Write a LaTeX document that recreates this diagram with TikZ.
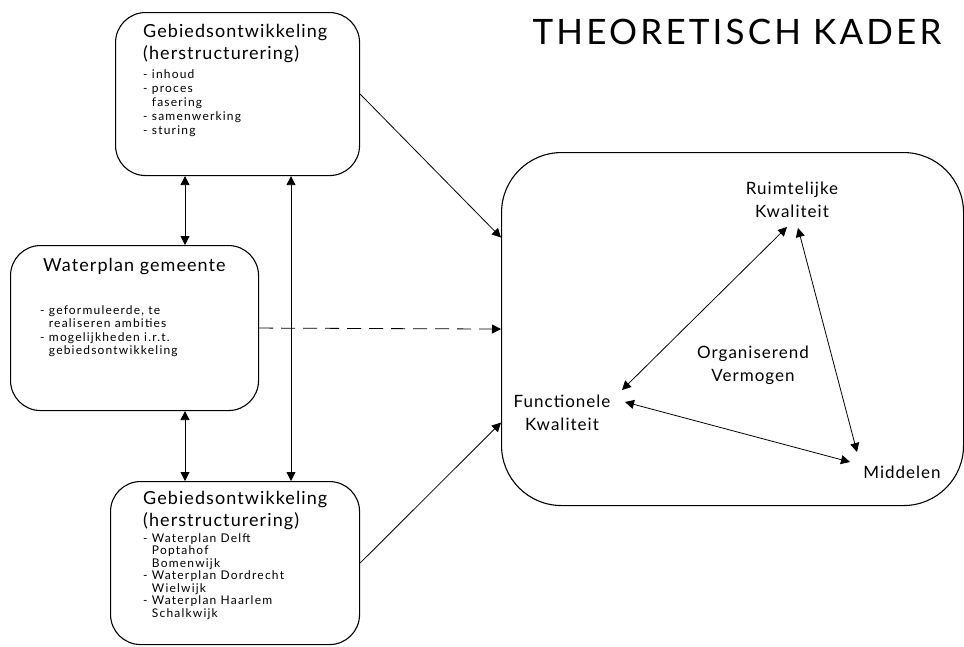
\documentclass[tikz,border=0pt]{standalone}
\usepackage{fontspec}
\setmainfont{Lato}
\newfontfamily\headfont[LetterSpace=6]{Lato}
\newfontfamily\itemfont[LetterSpace=10]{Lato}
\newfontfamily\titlefont[LetterSpace=9]{Lato}
\usetikzlibrary{arrows.meta}
\begin{document}
\begin{tikzpicture}[x=1pt,y=-1pt,
  box/.style={draw, line width=1.1pt, rounded corners=30pt, anchor=north west, inner sep=0pt},
  arr/.style={line width=0.8pt, -{Triangle[length=9pt,width=9pt]}},
  dbl/.style={line width=0.8pt, {Triangle[length=9pt,width=9pt]}-{Triangle[length=9pt,width=9pt]}},
  head/.style={font=\headfont\fontsize{18}{22}\selectfont, align=left, anchor=north west, inner sep=0pt},
  items/.style={font=\itemfont\fontsize{12}{14}\selectfont, align=left, anchor=north west, inner sep=0pt},
  lbl/.style={font=\headfont\fontsize{17}{23}\selectfont, align=center, inner sep=0pt},
]
\useasboundingbox (0,0) rectangle (964,646);

% boxes
\node[box, minimum width=244pt, minimum height=163pt] (top) at (115,12) {};
\node[box, minimum width=248pt, minimum height=165pt] (wp) at (10,245) {};
\node[box, minimum width=249pt, minimum height=163pt] (bot) at (110,481) {};
\node[box, rounded corners=60pt, minimum width=462pt, minimum height=353pt] (frame) at (501,152) {};

% title
\node[font=\titlefont\fontsize{35}{40}\selectfont] (title) at (737,32) {THEORETISCH KADER};

% texts in the boxes
\node[head] (topH) at (143,24.5) {Gebiedsontwikkeling\\(herstructurering)};
\node[items] (topL) at (143,69) {- inhoud\\- proces\\\phantom{- }fasering\\- samenwerking\\- sturing};

\node[head] (wpH) at (43,258.5) {Waterplan gemeente};
\node[items, font=\itemfont\fontsize{12}{13.5}\selectfont] (wpL) at (40,305) {- geformuleerde, te\\\phantom{- }realiseren ambities\\- mogelijkheden i.r.t.\\\phantom{- }gebiedsontwikkeling};

\node[head] (botH) at (143,491.5) {Gebiedsontwikkeling\\(herstructurering)};
\node[items, font=\itemfont\fontsize{12}{12.5}\selectfont] (botL) at (143,533) {- Waterplan Delft\\\phantom{- }Poptahof\\\phantom{- }Bomenwijk\\- Waterplan Dordrecht\\\phantom{- }Wielwijk\\- Waterplan Haarlem\\\phantom{- }Schalkwijk};

% triangle labels
\node[lbl] (rk) at (792,200) {Ruimtelijke\\Kwaliteit};
\node[lbl] (fk) at (562,413) {Functionele\\Kwaliteit};
\node[lbl] (mid) at (902,472) {Middelen};
\node[lbl] (org) at (753,365) {Organiserend\\Vermogen};

% connectors between the boxes
\coordinate (c1) at (185,0);
\coordinate (c2) at (291,0);
\draw[dbl] (top.south -| c1) -- (wp.north -| c1);
\draw[dbl] (wp.south -| c1) -- (bot.north -| c1);
\draw[dbl] (top.south -| c2) -- (bot.north -| c2);
\draw[arr] (top.east) -- ([yshift=91.5pt]frame.west);
\draw[arr, dash pattern=on 14pt off 8pt] (wp.east) -- (frame.west);
\draw[arr] (bot.east) -- ([yshift=-93.5pt]frame.west);

% triangle
\draw[dbl] ([shift={(-5,27)}]rk.center) -- ([shift={(60,-23)}]fk.center);
\draw[dbl] ([shift={(6,28)}]rk.center) -- ([shift={(-45,-20)}]mid.center);
\draw[dbl] ([shift={(63,-11)}]fk.center) -- ([shift={(-52,-10)}]mid.center);
\end{tikzpicture}
\end{document}
